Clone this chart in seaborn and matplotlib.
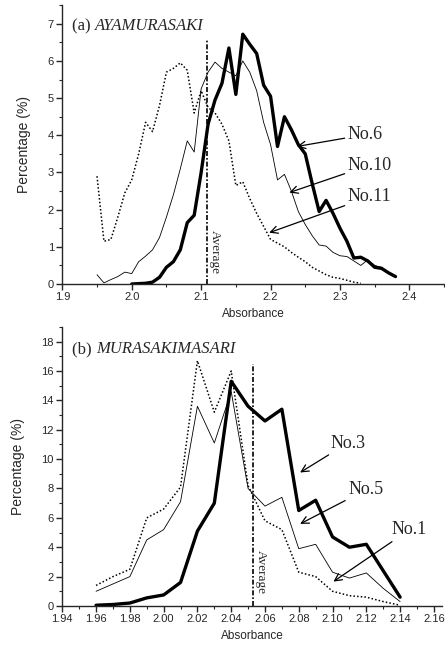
import matplotlib
matplotlib.use("Agg")
import matplotlib.pyplot as plt
from matplotlib.ticker import MultipleLocator, FormatStrFormatter
import seaborn as sns

sns.set_style("ticks")
plt.rcParams['font.family'] = ['Liberation Sans', 'DejaVu Sans']

# (a) AYAMURASAKI
x_no6 = [2.00, 2.01, 2.02, 2.03, 2.04, 2.05, 2.06, 2.07, 2.08, 2.09, 2.10, 2.11, 2.12,
         2.13, 2.14, 2.15, 2.16, 2.17, 2.18, 2.19, 2.20, 2.21, 2.22, 2.23, 2.24, 2.25,
         2.26, 2.27, 2.28, 2.29, 2.30, 2.31, 2.32, 2.33, 2.34, 2.35, 2.36, 2.37, 2.38]
y_no6 = [0.0, 0.01, 0.02, 0.05, 0.18, 0.45, 0.6, 0.92, 1.65, 1.85, 3.0, 4.3, 4.95,
         5.4, 6.35, 5.1, 6.72, 6.45, 6.2, 5.35, 5.05, 3.7, 4.5, 4.15, 3.75, 3.5,
         2.7, 1.95, 2.25, 1.9, 1.5, 1.15, 0.7, 0.72, 0.62, 0.45, 0.42, 0.3, 0.2]

x_no10 = [1.95, 1.96, 1.97, 1.98, 1.99, 2.00, 2.01, 2.02, 2.03, 2.04, 2.05, 2.06, 2.07,
          2.08, 2.09, 2.10, 2.11, 2.12, 2.13, 2.14, 2.15, 2.16, 2.17, 2.18, 2.19, 2.20,
          2.21, 2.22, 2.23, 2.24, 2.25, 2.26, 2.27, 2.28, 2.29, 2.30, 2.31, 2.32, 2.33,
          2.34, 2.35, 2.36]
y_no10 = [0.25, 0.03, 0.12, 0.2, 0.32, 0.28, 0.6, 0.75, 0.92, 1.25, 1.8, 2.4, 3.1,
          3.85, 3.55, 5.25, 5.7, 5.97, 5.8, 5.7, 5.6, 6.0, 5.7, 5.2, 4.35, 3.75,
          2.8, 2.95, 2.5, 1.95, 1.6, 1.3, 1.05, 1.02, 0.85, 0.76, 0.74, 0.62, 0.5,
          0.65, 0.5, 0.45]

x_no11 = [1.95, 1.96, 1.97, 1.98, 1.99, 2.00, 2.01, 2.02, 2.03, 2.04, 2.05, 2.06, 2.07,
          2.08, 2.09, 2.10, 2.11, 2.12, 2.13, 2.14, 2.15, 2.16, 2.17, 2.18, 2.19, 2.20,
          2.21, 2.22, 2.23, 2.24, 2.25, 2.26, 2.27, 2.28, 2.29, 2.30, 2.31, 2.32, 2.33]
y_no11 = [2.9, 1.15, 1.2, 1.8, 2.45, 2.8, 3.5, 4.35, 4.1, 4.8, 5.7, 5.8, 5.95,
          5.75, 4.6, 5.2, 4.75, 4.6, 4.3, 3.85, 2.65, 2.75, 2.3, 1.9, 1.55, 1.2,
          1.1, 1.0, 0.85, 0.72, 0.6, 0.45, 0.35, 0.25, 0.18, 0.15, 0.1, 0.05, 0.02]

avg_a = 2.108

# (b) MURASAKIMASARI
x_b = [1.96, 1.97, 1.98, 1.99, 2.00, 2.01, 2.02, 2.03, 2.04, 2.05,
       2.06, 2.07, 2.08, 2.09, 2.10, 2.11, 2.12, 2.13, 2.14]
y_no3 = [0.05, 0.1, 0.2, 0.55, 0.75, 1.6, 5.1, 7.0, 15.3, 13.6,
         12.6, 13.4, 6.5, 7.2, 4.7, 4.0, 4.2, 2.4, 0.6]
y_no5 = [1.0, 1.5, 2.0, 4.5, 5.2, 7.1, 13.6, 11.1, 14.6, 8.0,
         6.8, 7.4, 3.9, 4.2, 2.3, 1.9, 2.25, 1.2, 0.3]
y_no1 = [1.4, 2.0, 2.5, 6.0, 6.6, 8.1, 16.7, 13.2, 16.0, 8.2,
         5.8, 5.2, 2.3, 2.0, 1.0, 0.7, 0.6, 0.3, 0.05]

avg_b = 2.053

fig = plt.figure(figsize=(4.45, 6.52), dpi=100)
ax1 = fig.add_axes([0.14, 0.5644, 0.858, 0.4276])
ax2 = fig.add_axes([0.14, 0.0706, 0.854, 0.4279])

thick = dict(color='black', lw=2.4, ls='-')
thin = dict(color='black', lw=0.6, ls='-')
dots = dict(color='black', lw=1.1, ls=(0, (1, 1.4)))
avg_style = dict(color='black', lw=1.2, ls=(0, (3, 1.2, 1, 1.2)))
serif = ['Liberation Serif', 'DejaVu Serif']
arrow = dict(arrowstyle='->', color='black', lw=0.9, shrinkA=0, shrinkB=0)


def panel_title(ax, x, y, tag, name):
    t = ax.text(x, y, tag, fontsize=12, family=serif, va='center')
    ax.annotate(name, xy=(1, 0.5), xycoords=t, va='center', ha='left',
                fontsize=12, family=serif, style='italic')


# ---- panel (a)
sns.lineplot(x=x_no11, y=y_no11, ax=ax1, **dots)
sns.lineplot(x=x_no10, y=y_no10, ax=ax1, **thin)
sns.lineplot(x=x_no6, y=y_no6, ax=ax1, **thick)
ax1.plot([avg_a, avg_a], [0, 6.6], **avg_style)
ax1.text(avg_a + 0.003, 0.85, 'Average', rotation=-90, ha='left', va='center',
         fontsize=9.5, family=serif)
ax1.set_xlim(1.9, 2.45)
ax1.set_ylim(0, 7.5)
ax1.xaxis.set_major_locator(MultipleLocator(0.1))
ax1.xaxis.set_minor_locator(MultipleLocator(0.05))
ax1.xaxis.set_major_formatter(FormatStrFormatter('%.1f'))
ax1.yaxis.set_major_locator(MultipleLocator(1))
ax1.yaxis.set_minor_locator(MultipleLocator(0.5))
panel_title(ax1, 1.914, 6.94, '(a) ', 'AYAMURASAKI')
ax1.annotate('No.6', xy=(2.238, 3.7), xytext=(2.3115, 4.02), fontsize=13, family=serif,
             va='center', ha='left', arrowprops=arrow)
ax1.annotate('No.10', xy=(2.227, 2.46), xytext=(2.3115, 3.2), fontsize=13, family=serif,
             va='center', ha='left', arrowprops=arrow)
ax1.annotate('No.11', xy=(2.198, 1.38), xytext=(2.3115, 2.35), fontsize=13, family=serif,
             va='center', ha='left', arrowprops=arrow)

# ---- panel (b)
sns.lineplot(x=x_b, y=y_no1, ax=ax2, **dots)
sns.lineplot(x=x_b, y=y_no5, ax=ax2, **thin)
sns.lineplot(x=x_b, y=y_no3, ax=ax2, **thick)
ax2.plot([avg_b, avg_b], [0, 16.5], **avg_style)
ax2.text(avg_b + 0.001, 2.3, 'Average', rotation=-90, ha='left', va='center',
         fontsize=9.5, family=serif)
ax2.set_xlim(1.94, 2.165)
ax2.set_ylim(0, 19)
ax2.xaxis.set_major_locator(MultipleLocator(0.02))
ax2.xaxis.set_minor_locator(MultipleLocator(0.01))
ax2.xaxis.set_major_formatter(FormatStrFormatter('%.2f'))
ax2.yaxis.set_major_locator(MultipleLocator(2))
ax2.yaxis.set_minor_locator(MultipleLocator(1))
panel_title(ax2, 1.946, 17.5, '(b) ', 'MURASAKIMASARI')
ax2.annotate('No.3', xy=(2.0808, 9.09), xytext=(2.0986, 11.09), fontsize=13, family=serif,
             va='center', ha='left', arrowprops=arrow)
ax2.annotate('No.5', xy=(2.0808, 5.59), xytext=(2.1094, 7.91), fontsize=13, family=serif,
             va='center', ha='left', arrowprops=arrow)
ax2.annotate('No.1', xy=(2.1005, 1.66), xytext=(2.135, 5.18), fontsize=13, family=serif,
             va='center', ha='left', arrowprops=arrow)

for ax in (ax1, ax2):
    sns.despine(ax=ax)
    ax.spines['left'].set_linewidth(1.0)
    ax.spines['bottom'].set_linewidth(1.0)
    ax.tick_params(which='major', length=4, width=1.0, labelsize=8, pad=2)
    ax.tick_params(which='minor', length=2, width=0.8)
    ax.set_xlabel('Absorbance', fontsize=8.5, labelpad=4)
    ax.set_ylabel('Percentage (%)', fontsize=10, labelpad=12)

fig.savefig('out.png', dpi=100)
